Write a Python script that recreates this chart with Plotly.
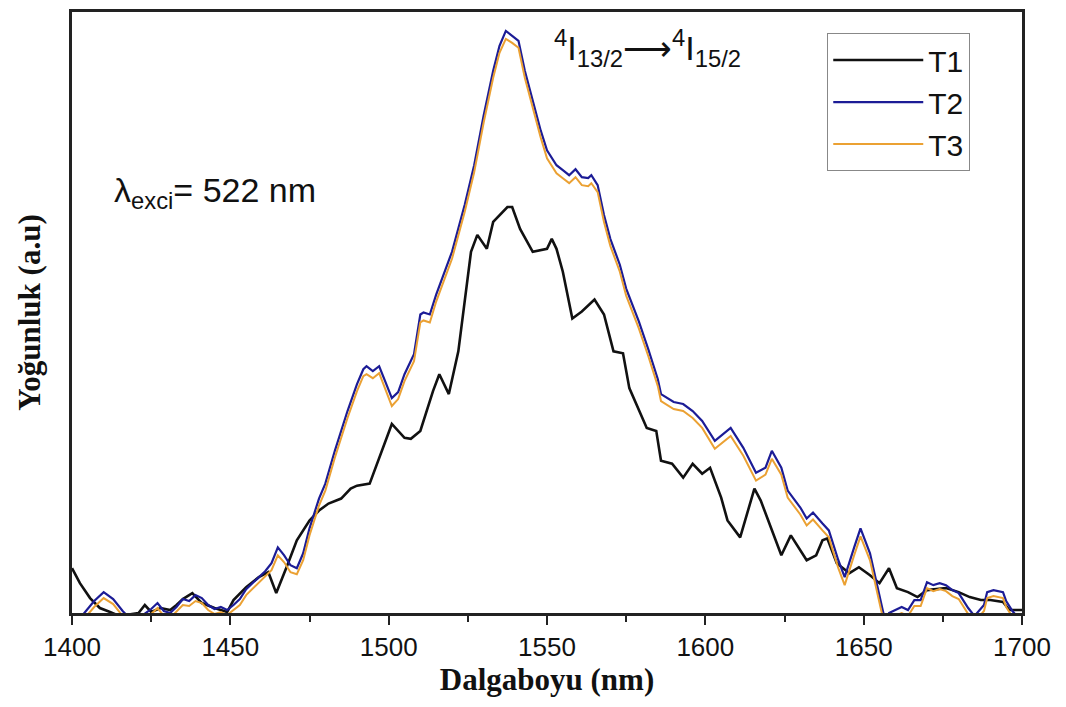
import plotly.graph_objects as go

# ---- data ----
t2_x = [1400, 1404, 1407, 1410, 1413, 1416, 1419, 1422, 1425, 1427, 1429, 1431, 1433, 1435, 1437,
        1439, 1441, 1443, 1445, 1447, 1449, 1451, 1453, 1455, 1457, 1459, 1461, 1463, 1465, 1467,
        1469, 1471, 1473, 1475, 1478, 1480, 1483, 1487, 1490, 1492, 1493, 1495, 1497, 1499, 1501,
        1503, 1505, 1508, 1510, 1511, 1513, 1515, 1520, 1524, 1527, 1530, 1533, 1535, 1537, 1539,
        1541, 1543, 1545, 1548, 1550, 1553, 1555, 1557, 1559, 1561, 1563, 1564, 1566, 1568, 1570,
        1573, 1575, 1579, 1582, 1585, 1586, 1590, 1593, 1596, 1599, 1603, 1608, 1612, 1616, 1619,
        1621, 1624, 1626, 1630, 1632, 1634, 1637, 1639, 1642, 1644, 1647, 1649, 1652, 1654, 1656,
        1657, 1658, 1662, 1664, 1666, 1668, 1670, 1672, 1674, 1676, 1678, 1680, 1683, 1685, 1688,
        1689, 1691, 1694, 1695, 1697, 1700]
t2_y = [-15, 0, 12, 21, 14, 2, -8, -3, 4, 10, 2, 0, 6, 14, 12,
        18, 15, 8, 4, 6, 3, 8, 14, 24, 30, 36, 42, 50, 66, 58,
        48, 45, 60, 85, 115, 130, 163, 203, 230, 245, 248, 243, 248, 232, 216,
        222, 240, 260, 300, 302, 300, 320, 363, 410, 450, 500, 545, 570, 585, 580,
        575, 545, 520, 485, 465, 450, 445, 440, 446, 438, 437, 440, 430, 400, 376,
        350, 326, 293, 265, 235, 220, 212, 210, 203, 193, 173, 186, 166, 141, 146,
        163, 146, 123, 106, 95, 101, 90, 83, 53, 36, 66, 85, 60, 30, 3,
        -10, 0, 6, 3, 13, 13, 31, 28, 30, 28, 23, 20, 5, -3, 8,
        21, 23, 21, 12, 2, -10]
t3_y = [-20, -5, 6, 15, 9, -3, -12, -8, -1, 5, -3, -5, 1, 8, 7,
        12, 10, 3, -1, 1, -2, 3, 8, 18, 24, 30, 36, 43, 58, 51,
        41, 39, 53, 78, 108, 123, 156, 196, 223, 238, 240, 236, 241, 225, 208,
        215, 233, 253, 292, 294, 292, 313, 356, 403, 443, 493, 538, 563, 577, 573,
        568, 538, 513, 478, 457, 442, 437, 432, 438, 430, 429, 432, 423, 393, 369,
        343, 319, 286, 258, 228, 213, 205, 203, 196, 186, 165, 178, 158, 133, 139,
        155, 139, 116, 99, 88, 94, 83, 76, 45, 28, 58, 77, 53, 23, -4,
        -16, -6, 0, -3, 7, 7, 25, 22, 24, 22, 17, 14, -1, -9, 2,
        15, 17, 15, 6, -4, -16]

t1_x = [1400, 1402.5, 1405.7, 1408.8, 1412, 1415, 1421, 1423, 1425, 1428, 1431, 1433, 1435, 1438,
        1441, 1445, 1449, 1451, 1455, 1459, 1462, 1464.5, 1468, 1471, 1475, 1478, 1481, 1485, 1488,
        1490, 1494, 1497, 1501, 1505, 1507, 1510, 1514, 1516, 1519, 1522, 1526, 1528, 1531, 1533,
        1535, 1537.5, 1539, 1541.5, 1545.5, 1550, 1551.5, 1553, 1555, 1558, 1561, 1565, 1568, 1571,
        1574, 1576, 1581.5, 1584.5, 1586, 1589.5, 1593, 1596, 1599, 1601.5, 1605, 1607, 1611, 1615.5,
        1617.5, 1621, 1624, 1627, 1632, 1635, 1637, 1638.5, 1641.5, 1645.5, 1648.5, 1652, 1655, 1658,
        1660.5, 1664, 1667, 1670, 1676, 1680, 1683.5, 1687, 1690, 1694, 1696, 1700]
t1_y = [45, 30, 15, 5, 1, -3, 0, 8, 1, 5, 3, 8, 14, 20,
        10, 5, 1, 13, 26, 36, 41, 20, 48, 73, 93, 103, 110, 115, 125,
        128, 130, 156, 190, 176, 175, 183, 223, 240, 220, 263, 363, 380, 366, 393,
        400, 408, 408, 386, 363, 366, 376, 366, 343, 296, 303, 315, 300, 263,
        261, 226, 186, 183, 153, 150, 136, 150, 140, 146, 116, 93, 76, 125,
        113, 83, 58, 78, 53, 58, 73, 75, 50, 40, 46, 38, 30, 45,
        25, 21, 16, 23, 25, 21, 16, 13, 13, 11, 3, 3]

x_ticks = [1400, 1450, 1500, 1550, 1600, 1650, 1700]

fig = go.Figure()
fig.add_trace(go.Scatter(x=t1_x, y=t1_y, mode="lines", name="T1",
                         line=dict(color="#111111", width=2.6)))
fig.add_trace(go.Scatter(x=t2_x, y=t2_y, mode="lines", name="T2",
                         line=dict(color="#1c1c96", width=2.2)))
fig.add_trace(go.Scatter(x=t2_x, y=t3_y, mode="lines", name="T3",
                         line=dict(color="#eba133", width=2.0)))

fig.update_layout(
    width=1066, height=707,
    margin=dict(l=72, r=44, t=9, b=94),
    paper_bgcolor="white", plot_bgcolor="white",
    showlegend=True,
    legend=dict(x=0.795, y=0.965, xanchor="left", yanchor="top",
                bordercolor="#888888", borderwidth=1, bgcolor="white",
                font=dict(family="Liberation Sans, Arial", size=30, color="#111"),
                itemwidth=90, tracegroupgap=0),
    font=dict(family="Liberation Sans, Arial", color="#111"),
)
fig.update_xaxes(range=[1400, 1700], tickvals=x_ticks,
                 ticks="outside", ticklen=9, tickwidth=1.5, tickcolor="#222",
                 minor=dict(dtick=25, ticks="outside", ticklen=6, tickwidth=1.5, tickcolor="#222"),
                 showgrid=False, zeroline=False,
                 showline=True, linewidth=2.5, linecolor="#222", mirror=True,
                 tickfont=dict(family="Liberation Sans, Arial", size=26, color="#111"),
                 title=dict(text="<b>Dalgaboyu (nm)</b>", standoff=8,
                            font=dict(family="Liberation Serif, Times New Roman", size=31, color="#111")))
fig.update_yaxes(range=[0, 604], showticklabels=False, ticks="",
                 showgrid=False, zeroline=False,
                 showline=True, linewidth=2.5, linecolor="#222", mirror=True,
                 title=dict(text="<b>Yoğunluk (a.u)</b>", standoff=20,
                            font=dict(family="Liberation Serif, Times New Roman", size=31, color="#111")))

fig.add_annotation(x=1551.5, y=0.94, xref="x", yref="paper", xanchor="left", yanchor="middle",
                   text="<sup>4</sup>I<sub>13/2</sub>\u27f6<sup>4</sup>I<sub>15/2</sub>",
                   showarrow=False, font=dict(family="Liberation Sans, Arial", size=34, color="#111"))
fig.add_annotation(x=1412.5, y=0.70, xref="x", yref="paper", xanchor="left", yanchor="middle",
                   text="\u03bb<sub>exci</sub>= 522 nm",
                   showarrow=False, font=dict(family="Liberation Sans, Arial", size=34, color="#111"))

fig.write_html("out.html")
